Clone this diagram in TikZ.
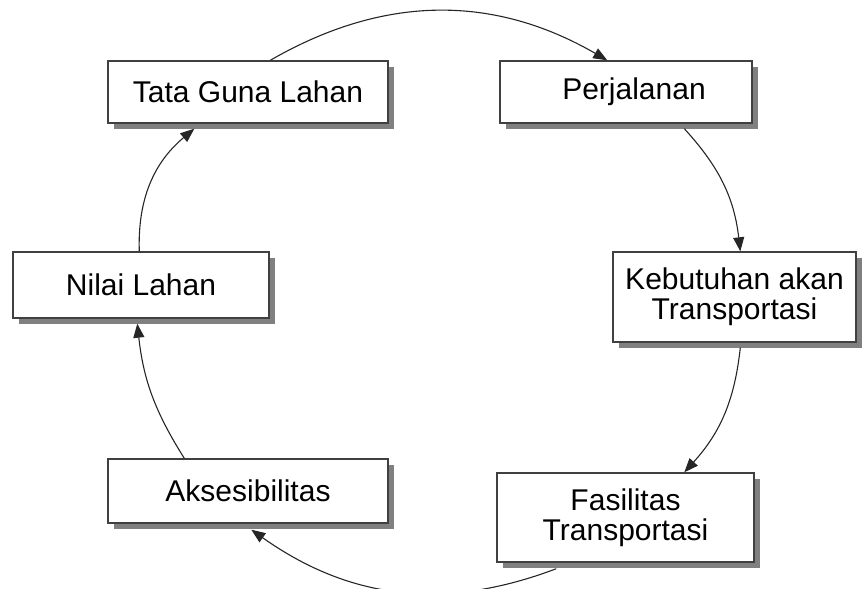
\documentclass[tikz,border=0pt]{standalone}
\usepackage{fontspec}
\setmainfont{Liberation Sans}
\usetikzlibrary{shadows,arrows.meta,calc}

\begin{document}
\begin{tikzpicture}[x=0.5pt,y=-0.5pt,
  box/.style={draw=black!75, line width=0.7pt, fill=white, inner sep=0pt,
    align=center, font=\fontsize{15}{15}\selectfont,
    drop shadow={shadow xshift=3pt, shadow yshift=-3pt, fill=black!50, opacity=1}},
  flow/.style={draw=black!85, line width=0.55pt,
    -{Triangle[length=7pt,width=5.5pt]}, bend left=#1}
]
\useasboundingbox (0,0) rectangle (863,589);

% boxes of the cycle
\node[box, minimum width=140pt, minimum height=31pt] (tata) at (248,92) {Tata Guna Lahan};
\node[box, minimum width=126pt, minimum height=31pt] (perj) at (626,92) {\hspace{8pt}Perjalanan};
\node[box, minimum width=121.5pt, minimum height=45pt] (keb) at (734.5,297) {Kebutuhan akan\\Transportasi};
\node[box, minimum width=128.5pt, minimum height=44.5pt] (fas) at (625.5,517.5) {Fasilitas\\Transportasi};
\node[box, minimum width=140pt, minimum height=32pt] (aks) at (248,491) {Aksesibilitas};
\node[box, minimum width=128pt, minimum height=33pt] (nil) at (141,285) {Nilai Lahan};

% end points of the connectors on the box edges
\coordinate (t1) at ($(tata.north west)+(163,0)$);
\coordinate (p1) at ($(perj.north west)+(108,0)$);
\coordinate (p2) at ($(perj.south west)+(185,5)$);
\coordinate (k1) at ($(keb.north west)+(128,0)$);
\coordinate (k2) at ($(keb.south west)+(128,5)$);
\coordinate (f1) at ($(fas.north west)+(188,0)$);
\coordinate (f2) at ($(fas.south west)+(60,6)$);
\coordinate (a1) at ($(aks.south west)+(144,6)$);
\coordinate (a2) at ($(aks.north west)+(77,0)$);
\coordinate (n1) at ($(nil.south west)+(125,5)$);
\coordinate (n2) at ($(nil.north west)+(127,0)$);
\coordinate (t2) at ($(tata.south west)+(87,5)$);

% clockwise cycle
\draw[flow=30] (t1) to (p1);
\draw[flow=18] (p2) to (k1);
\draw[flow=18] (k2) to (f1);
\draw[flow=28] (f2) to (a1);
\draw[flow=13] (a2) to (n1);
\draw[flow=26] (n2) to (t2);
\end{tikzpicture}
\end{document}
